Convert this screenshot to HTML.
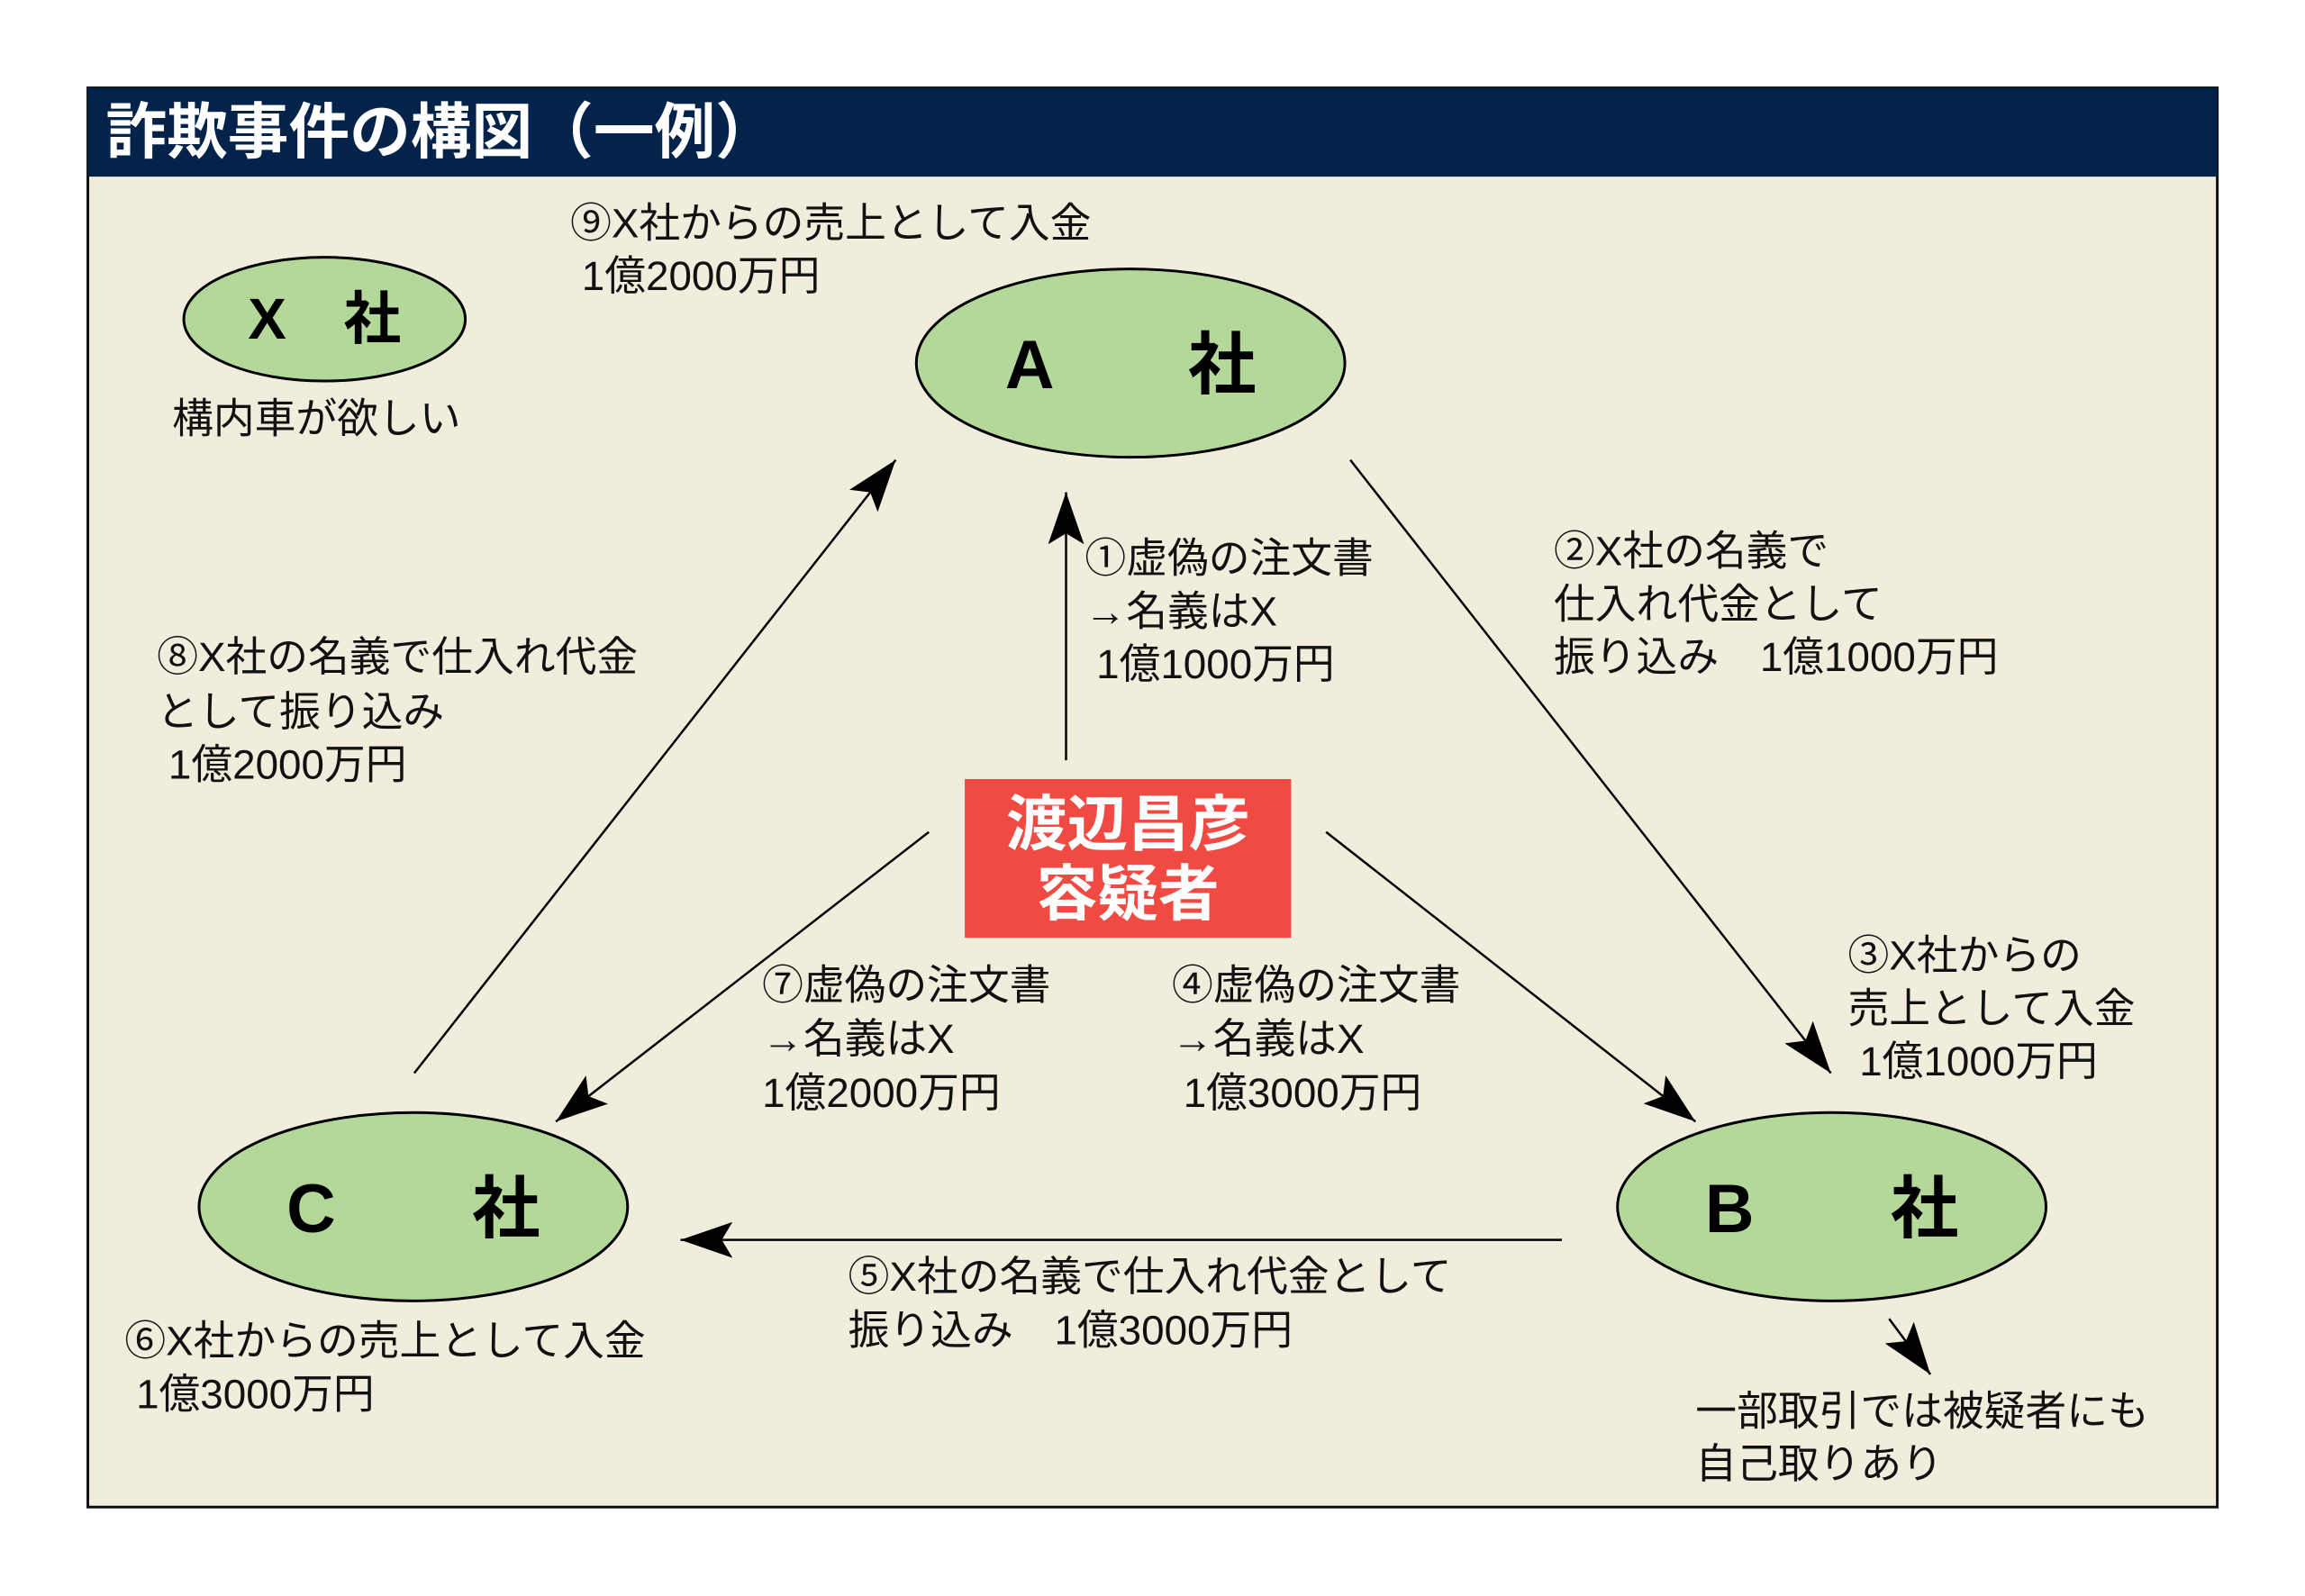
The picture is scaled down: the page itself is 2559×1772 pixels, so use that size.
<!DOCTYPE html>
<html><head><meta charset="utf-8"><style>
html,body{margin:0;padding:0;background:#fff;}
svg{display:block}
text{font-family:"Liberation Sans","Noto Sans CJK JP",sans-serif;}
</style></head><body>
<svg width="2559" height="1772" viewBox="0 0 2559 1772" xmlns="http://www.w3.org/2000/svg">
<defs>
<marker id="ah" markerUnits="userSpaceOnUse" markerWidth="60" markerHeight="44" refX="58" refY="22" orient="auto">
<path d="M0,2 L58,22 L0,42 L12,22 Z" fill="#000"/>
</marker>
</defs>
<g transform="scale(0.9954)">
<rect x="98" y="98" width="2375" height="1583" fill="#f1eddc" stroke="#111" stroke-width="3"/>
<rect x="98" y="98" width="2375" height="99" fill="#03234b"/>
<text x="118" y="148" dominant-baseline="central" font-size="68" font-weight="bold" fill="#fff">詐欺事件の構図（一例）</text>

<g stroke="#000" stroke-width="3" fill="#b3d899">
<ellipse cx="362" cy="356" rx="157" ry="69"/>
<ellipse cx="1261" cy="405" rx="239" ry="105"/>
<ellipse cx="461" cy="1346" rx="239" ry="105"/>
<ellipse cx="2043" cy="1346" rx="239" ry="105"/>
</g>
<g font-weight="bold" fill="#000" dominant-baseline="central" text-anchor="middle">
<text x="362" y="356" font-size="64" xml:space="preserve">X　社</text>
<text x="1261" y="408" font-size="76" xml:space="preserve">A　　社</text>
<text x="461" y="1349" font-size="76" xml:space="preserve">C　　社</text>
<text x="2043" y="1349" font-size="76" xml:space="preserve">B　　社</text>
</g>

<rect x="1076" y="869" width="364" height="177" fill="#f14a43"/>
<g font-weight="bold" fill="#fff" font-size="68" text-anchor="middle" dominant-baseline="central">
<text x="1258" y="920">渡辺昌彦</text>
<text x="1258" y="998">容疑者</text>
</g>

<g stroke="#000" stroke-width="2.5" fill="none" marker-end="url(#ah)">
<line x1="1189" y1="848" x2="1189" y2="549"/>
<line x1="1506" y1="513" x2="2042" y2="1197"/>
<line x1="1479" y1="928" x2="1891" y2="1251"/>
<line x1="1742" y1="1383" x2="759" y2="1383"/>
<line x1="1036" y1="928" x2="620" y2="1251"/>
<line x1="462" y1="1197" x2="999" y2="513"/>
<line x1="2107" y1="1471" x2="2153" y2="1533"/>
</g>

<g font-size="46" fill="#111" dominant-baseline="central">
<text x="192" y="467">構内車が欲しい</text>
<text x="636" y="249">⑨X社からの売上として入金</text>
<text x="636" y="308" xml:space="preserve"> 1億2000万円</text>
<text x="1210" y="623">①虚偽の注文書</text>
<text x="1210" y="682">→名義はX</text>
<text x="1210" y="741" xml:space="preserve"> 1億1000万円</text>
<text x="1733" y="615">②X社の名義で</text>
<text x="1733" y="674">仕入れ代金として</text>
<text x="1733" y="733" xml:space="preserve">振り込み　1億1000万円</text>
<text x="175" y="733">⑧X社の名義で仕入れ代金</text>
<text x="175" y="794">として振り込み</text>
<text x="175" y="853" xml:space="preserve"> 1億2000万円</text>
<text x="2061" y="1066">③X社からの</text>
<text x="2061" y="1125">売上として入金</text>
<text x="2061" y="1184" xml:space="preserve"> 1億1000万円</text>
<text x="850" y="1099">⑦虚偽の注文書</text>
<text x="850" y="1159">→名義はX</text>
<text x="850" y="1219">1億2000万円</text>
<text x="1307" y="1099">④虚偽の注文書</text>
<text x="1307" y="1159">→名義はX</text>
<text x="1307" y="1219" xml:space="preserve"> 1億3000万円</text>
<text x="946" y="1424">⑤X社の名義で仕入れ代金として</text>
<text x="946" y="1484" xml:space="preserve">振り込み　1億3000万円</text>
<text x="139" y="1496">⑥X社からの売上として入金</text>
<text x="139" y="1555" xml:space="preserve"> 1億3000万円</text>
<text x="1891" y="1574">一部取引では被疑者にも</text>
<text x="1891" y="1633">自己取りあり</text>
</g>
</g>
</svg>
</body></html>
